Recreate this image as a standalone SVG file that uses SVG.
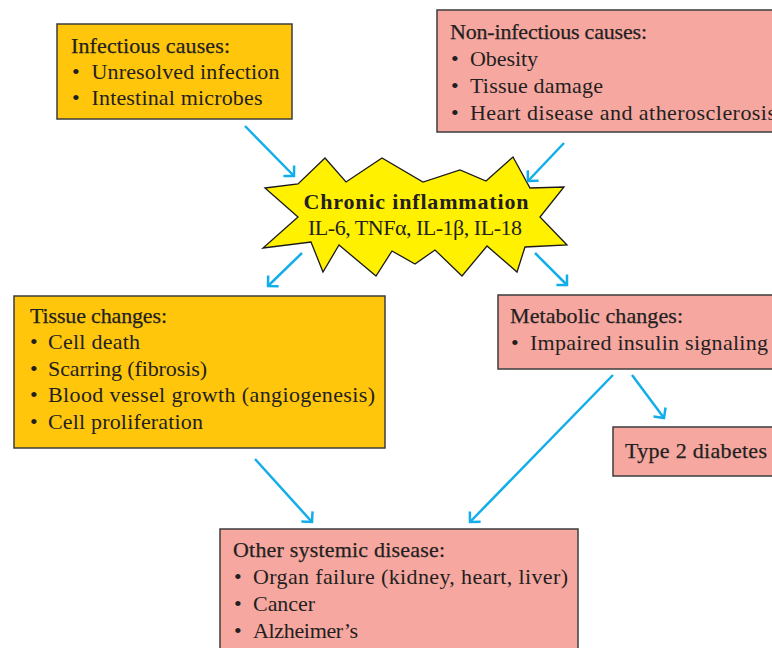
<svg xmlns="http://www.w3.org/2000/svg" width="772" height="648" viewBox="0 0 772 648">
<style>
  .t { font-family: "Liberation Serif", "Times New Roman", serif; font-size: 22px; fill: #231f20; }
  .h { stroke: #231f20; stroke-width: 0.25; }
  .b { font-weight: bold; font-size: 22px; }
  .orange { fill: #ffc60b; stroke: #3c3c3c; stroke-width: 1.5; }
  .pink { fill: #f5a7a0; stroke: #3c3c3c; stroke-width: 1.5; }
  .conn { stroke: #12aeea; stroke-width: 2.5; fill: none; marker-end: url(#head); }
</style>
<defs>
  <marker id="head" viewBox="-10 -10 12 20" refX="0" refY="0" markerWidth="12" markerHeight="20" markerUnits="userSpaceOnUse" orient="auto">
    <path d="M-7.5,-7.5 L0,0 L-7.5,7.5" fill="none" stroke="#12aeea" stroke-width="2.5" stroke-linejoin="miter"/>
  </marker>
</defs>
<rect width="772" height="648" fill="#ffffff"/>

<g id="infectious">
  <rect class="orange" x="57" y="24" width="235" height="95"/>
  <text class="t h" x="71" y="53" textLength="159">Infectious causes:</text>
  <text class="t"><tspan x="72" y="79">•</tspan><tspan x="91.5" y="79" textLength="188">Unresolved infection</tspan></text>
  <text class="t"><tspan x="72" y="105">•</tspan><tspan x="91.5" y="105" textLength="171">Intestinal microbes</tspan></text>
</g>

<g id="noninfectious">
  <rect class="pink" x="437" y="10" width="345" height="122"/>
  <text class="t h" x="450" y="39" textLength="197">Non-infectious causes:</text>
  <text class="t"><tspan x="451" y="66">•</tspan><tspan x="470" y="66" textLength="68">Obesity</tspan></text>
  <text class="t"><tspan x="451" y="93">•</tspan><tspan x="470" y="93" textLength="133">Tissue damage</tspan></text>
  <text class="t"><tspan x="451" y="120">•</tspan><tspan x="470" y="120" textLength="306">Heart disease and atherosclerosis</tspan></text>
</g>

<g id="inflammation">
  <polygon points="265,188 298,184 325,158 346,182 382,158 423,182 460,170 486,181 513,157 530,188 564,187 540,217 567,245 525,247 517,272 487,246 462,276 435,250 415,264 392,251 376,276 339,245 323,272 311,242 263,248 298,217" fill="#fff100" stroke="#1a1a1a" stroke-width="1.3" stroke-linejoin="miter"/>
  <text class="t b" x="416" y="209" text-anchor="middle" textLength="225">Chronic inflammation</text>
  <text class="t" x="415" y="235" text-anchor="middle" textLength="214">IL-6, TNFα, IL-1β, IL-18</text>
</g>

<g id="tissue">
  <rect class="orange" x="14" y="296" width="371" height="152"/>
  <text class="t h" x="30" y="323" textLength="137">Tissue changes:</text>
  <text class="t"><tspan x="30" y="349">•</tspan><tspan x="48" y="349" textLength="92">Cell death</tspan></text>
  <text class="t"><tspan x="30" y="376">•</tspan><tspan x="48" y="376" textLength="159">Scarring (fibrosis)</tspan></text>
  <text class="t"><tspan x="30" y="402">•</tspan><tspan x="48" y="402" textLength="327">Blood vessel growth (angiogenesis)</tspan></text>
  <text class="t"><tspan x="30" y="429">•</tspan><tspan x="48" y="429" textLength="155">Cell proliferation</tspan></text>
</g>

<g id="metabolic">
  <rect class="pink" x="498" y="295" width="290" height="74"/>
  <text class="t h" x="510" y="323" textLength="173">Metabolic changes:</text>
  <text class="t"><tspan x="511" y="350">•</tspan><tspan x="530" y="350" textLength="238">Impaired insulin signaling</tspan></text>
</g>

<g id="diabetes">
  <rect class="pink" x="613" y="427" width="180" height="49"/>
  <text class="t h" x="625" y="458" textLength="142">Type 2 diabetes</text>
</g>

<g id="systemic">
  <rect class="pink" x="220" y="529" width="358" height="130"/>
  <text class="t h" x="233" y="557" textLength="212">Other systemic disease:</text>
  <text class="t"><tspan x="234" y="584">•</tspan><tspan x="253" y="584" textLength="315">Organ failure (kidney, heart, liver)</tspan></text>
  <text class="t"><tspan x="234" y="611">•</tspan><tspan x="253" y="611" textLength="62">Cancer</tspan></text>
  <text class="t"><tspan x="234" y="638">•</tspan><tspan x="253" y="638" textLength="105">Alzheimer’s</tspan></text>
</g>

<g id="connectors">
  <line class="conn" x1="245" y1="126" x2="294" y2="176"/>
  <line class="conn" x1="564" y1="143" x2="528" y2="181"/>
  <line class="conn" x1="302" y1="253" x2="268" y2="286"/>
  <line class="conn" x1="535" y1="253" x2="567" y2="285"/>
  <line class="conn" x1="632" y1="375" x2="664" y2="418"/>
  <line class="conn" x1="613" y1="375" x2="470" y2="522"/>
  <line class="conn" x1="255" y1="459" x2="312" y2="522"/>
</g>
</svg>
